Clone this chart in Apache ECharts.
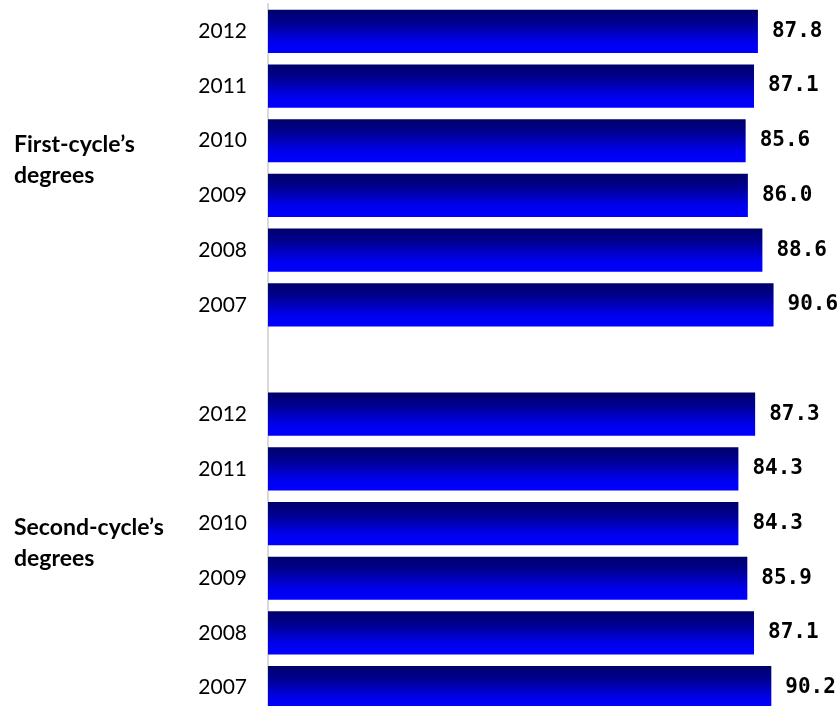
<!DOCTYPE html>
<html>
<head>
<meta charset="utf-8">
<script src="https://cdn.jsdelivr.net/npm/echarts@6/dist/echarts.min.js"></script>
<style>
  html, body { margin: 0; padding: 0; background: #ffffff; }
  #chart { width: 839px; height: 706px; }
</style>
</head>
<body>
<div id="chart"></div>
<script>
// ---- data ----
const years = ['2012', '2011', '2010', '2009', '2008', '2007'];
const groupNames = ['First-cycle\u2019s\ndegrees', 'Second-cycle\u2019s\ndegrees'];
const firstCycle = [87.8, 87.1, 85.6, 86.0, 88.6, 90.6];
const secondCycle = [87.3, 84.3, 84.3, 85.9, 87.1, 90.2];

// build one category list: group 1, an empty spacer slot, group 2
const catKeys = [];
const catLabels = [];
const values = [];
years.forEach((y, i) => { catKeys.push('a' + i); catLabels.push(y); values.push(firstCycle[i]); });
catKeys.push('gap'); catLabels.push(''); values.push('-');
years.forEach((y, i) => { catKeys.push('b' + i); catLabels.push(y); values.push(secondCycle[i]); });

const chart = echarts.init(document.getElementById('chart'));
const barGradient = new echarts.graphic.LinearGradient(0, 0, 0, 1, [
  { offset: 0, color: '#00006a' },
  { offset: 0.3, color: '#000090' },
  { offset: 0.75, color: '#0000ee' },
  { offset: 1, color: '#0000ff' }
]);

chart.setOption({
  animation: false,
  backgroundColor: '#ffffff',
  grid: { left: 268, right: 13, top: 4, height: 711, containLabel: false, outerBoundsMode: 'none' },
  xAxis: {
    type: 'value', min: 0, max: 100,
    show: false
  },
  yAxis: {
    type: 'category',
    inverse: true,
    data: catKeys,
    axisLine: { show: true, lineStyle: { color: '#d9d9d9', width: 2 } },
    axisTick: { show: false },
    axisLabel: {
      margin: 21,
      fontFamily: 'Lato',
      fontSize: 21,
      color: '#000000',
      formatter: (v, idx) => catLabels[idx]
    }
  },
  series: [{
    type: 'bar',
    data: values,
    barCategoryGap: '21%',
    itemStyle: { color: barGradient },
    label: {
      show: true,
      position: 'right',
      distance: 14,
      fontFamily: 'DejaVu Sans Mono',
      fontWeight: 'bold',
      fontSize: 21,
      color: '#000000',
      formatter: p => Number(p.value).toFixed(1)
    }
  }]
});

// group labels, vertically centred on each group via the axis scale
const g1 = (chart.convertToPixel({ yAxisIndex: 0 }, 'a0') + chart.convertToPixel({ yAxisIndex: 0 }, 'a5')) / 2;
const g2 = (chart.convertToPixel({ yAxisIndex: 0 }, 'b0') + chart.convertToPixel({ yAxisIndex: 0 }, 'b5')) / 2;
chart.setOption({
  graphic: [g1, g2].map((cy, i) => ({
    type: 'text',
    left: 14,
    top: cy - 39,
    style: {
      text: groupNames[i],
      fontFamily: 'Lato',
      fontWeight: 'bold',
      fontSize: 23,
      lineHeight: 31,
      fill: '#000000'
    }
  }))
});
</script>
</body>
</html>
